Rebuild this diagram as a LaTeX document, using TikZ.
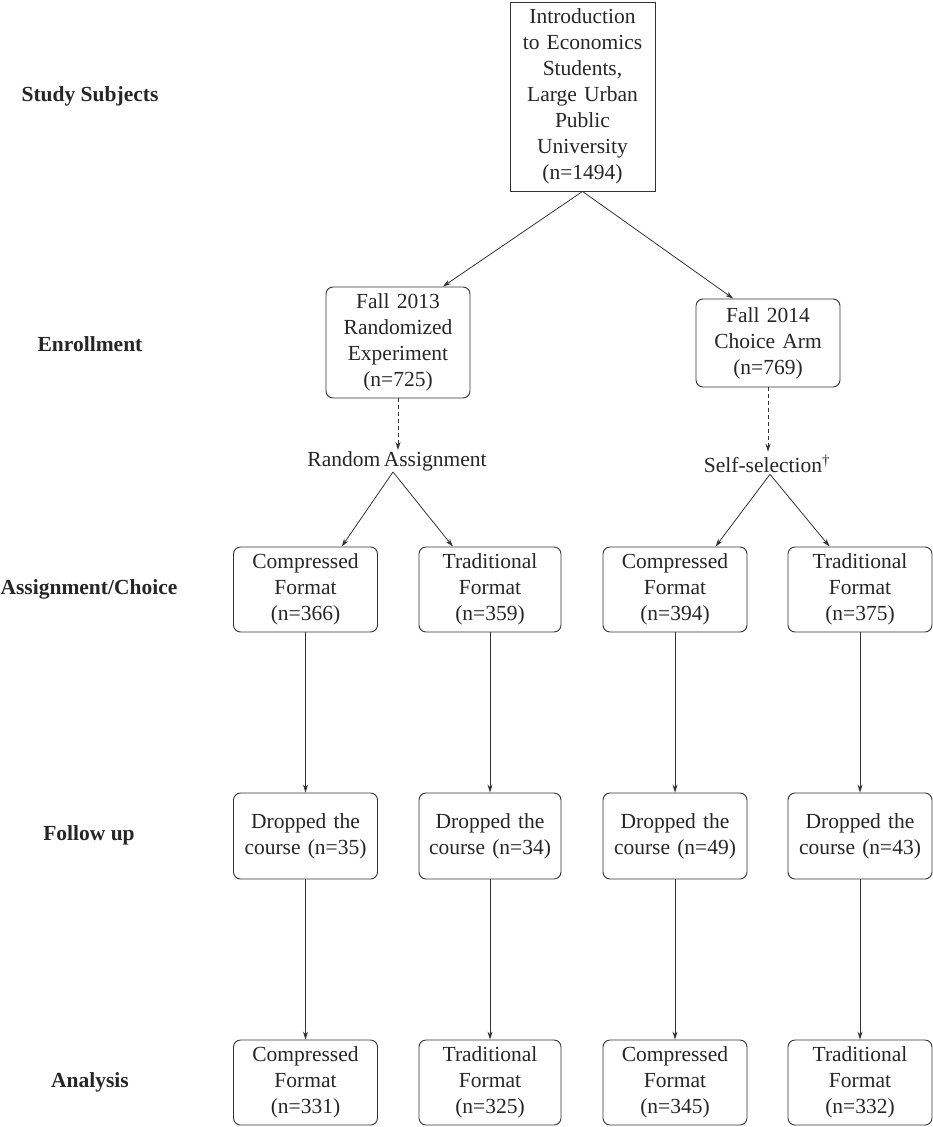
\documentclass[tikz,border=0pt]{standalone}
\usepackage{fontspec}
\setmainfont{Liberation Serif}
\usetikzlibrary{arrows.meta,calc}
\begin{document}
\begin{tikzpicture}[x=1pt,y=-1pt,
  every node/.style={font=\fontsize{21.5}{26}\selectfont, text=black!85, align=center, inner sep=0pt},
  box/.style={draw=black!80, line width=0.9pt, rounded corners=7pt, text width=140pt, minimum width=144pt},
  sqbox/.style={draw=black!80, line width=0.9pt, text width=140pt, minimum width=145pt},
  lab/.style={font=\fontsize{21.5}{26}\selectfont\bfseries},
  arr/.style={draw=black!80, line width=0.8pt, -{Stealth[length=8pt,width=5pt]}},
  darr/.style={arr, dash pattern=on 4pt off 3pt}]
\useasboundingbox (0,0) rectangle (933,1127);

% left labels
\node[lab] (l1) at (90,96) {Study Subjects};
\node[lab] (l2) at (90,344) {Enrollment};
\node[lab] (l3) at (89,589) {Assignment/Choice};
\node[lab] (l4) at (89,835) {Follow up};
\node[lab] (l5) at (90,1082) {Analysis};

% top
\node[sqbox, minimum height=189pt] (top) at (582.5,96.5) {Introduction\\to Economics\\Students,\\Large Urban\\Public\\University\\(n=1494)};

% enrollment
\node[box, minimum height=111pt] (f13) at (398,342.5) {Fall 2013\\Randomized\\Experiment\\(n=725)};
\node[box, minimum height=88pt] (f14) at (768,343) {Fall 2014\\Choice Arm\\(n=769)};

\node (ra) at (397,461) {Random\,Assignment};
\node (ss) at (767,464) {Self-selection\textsuperscript{\dag}};

% assignment row
\node[box, minimum height=85pt] (a1) at (305.5,589.5) {Compressed\\Format\\(n=366)};
\node[box, minimum height=85pt, minimum width=142pt] (a2) at (490,589.5) {Traditional\\Format\\(n=359)};
\node[box, minimum height=85pt] (a3) at (675,589.5) {Compressed\\Format\\(n=394)};
\node[box, minimum height=85pt] (a4) at (860,589.5) {Traditional\\Format\\(n=375)};

% follow up row
\node[box, minimum height=86pt] (d1) at (305.5,836) {Dropped the\\course (n=35)};
\node[box, minimum height=86pt, minimum width=142pt] (d2) at (490,836) {Dropped the\\course (n=34)};
\node[box, minimum height=86pt] (d3) at (675,836) {Dropped the\\course (n=49)};
\node[box, minimum height=86pt] (d4) at (860,836) {Dropped the\\course (n=43)};

% analysis row
\node[box, minimum height=85pt] (n1) at (305.5,1082.5) {Compressed\\Format\\(n=331)};
\node[box, minimum height=85pt, minimum width=142pt] (n2) at (490,1082.5) {Traditional\\Format\\(n=325)};
\node[box, minimum height=85pt] (n3) at (675,1082.5) {Compressed\\Format\\(n=345)};
\node[box, minimum height=85pt] (n4) at (860,1082.5) {Traditional\\Format\\(n=332)};

% connectors
\draw[arr] (top.south) -- ($(f13.north west)!0.81!(f13.north east)$);
\draw[arr] (top.south) -- ($(f14.north west)!0.26!(f14.north east)$);

\draw[darr] (f13.south) -- ($(ra.north)+(1,-1)$);
\draw[darr] (f14.south) -- ($(ss.north)+(1,-3)$);

\coordinate (raf) at ($(ra.south)+(-4,1)$);
\coordinate (ssf) at ($(ss.south)+(3,1)$);
\draw[arr] (raf) -- ($(a1.north west)!0.75!(a1.north east)$);
\draw[arr] (raf) -- ($(a2.north west)!0.24!(a2.north east)$);
\draw[arr] (ssf) -- ($(a3.north west)!0.78!(a3.north east)$);
\draw[arr] (ssf) -- ($(a4.north west)!0.29!(a4.north east)$);

\foreach \i in {1,2,3,4}{
  \draw[arr] (a\i.south) -- (d\i.north);
  \draw[arr] (d\i.south) -- (n\i.north);
}
\end{tikzpicture}
\end{document}
